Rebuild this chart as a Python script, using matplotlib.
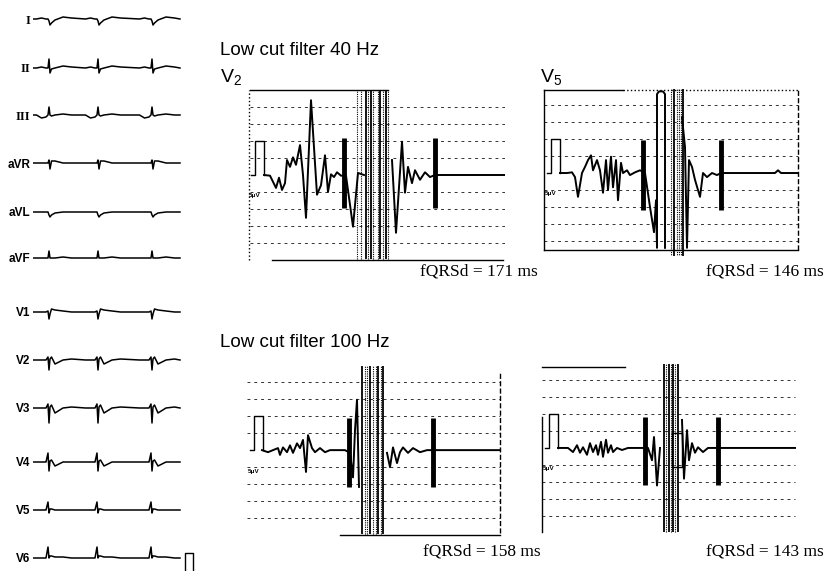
import matplotlib
matplotlib.use('Agg')
import matplotlib.pyplot as plt

plt.rcParams['font.family'] = ['Liberation Sans', 'DejaVu Sans']
plt.rcParams['mathtext.default'] = 'regular'

W, H = 825, 571
nan = float('nan')

# ---- 12-lead strip (left column), seconds / mV ----
lead_names = ['I', 'II', 'III', 'aVR', 'aVL', 'aVF', 'V1', 'V2', 'V3', 'V4', 'V5', 'V6']
beat_times = [0.32, 1.30, 2.38]
strip_end = 2.94
knot_t = [-0.25, -0.15, -0.06, -0.02, 0.0, 0.02, 0.05, 0.12, 0.28, 0.45]
beat_I = [0.0, 0.1, 0.0, 0.0, -0.2, -0.6, -0.4, -0.1, 0.2, 0.1]
beat_II = [0.0, 0.1, 0.0, 0.0, 0.9, -0.5, -0.1, 0.0, 0.2, 0.1]
beat_III = [0.0, -0.3, -0.2, 0.0, 0.8, 0.0, -0.1, 0.0, 0.1, 0.0]
beat_aVR = [0.0, 0.0, 0.0, 0.0, 0.3, -0.6, 0.2, 0.2, 0.0, 0.0]
beat_aVL = [0.0, 0.0, 0.0, 0.0, -0.3, -0.5, -0.3, -0.1, 0.0, 0.0]
beat_aVF = [0.0, 0.0, 0.0, 0.0, 0.7, 0.0, 0.0, 0.0, 0.1, 0.0]
beat_V1 = [0.0, 0.0, 0.0, 0.1, -0.7, -0.2, 0.3, 0.2, 0.1, 0.0]
beat_V2 = [0.0, 0.0, 0.0, 0.3, -1.0, 0.1, 0.3, -0.4, 0.0, 0.1]
beat_V3 = [0.0, 0.0, 0.0, 0.4, -1.5, 0.1, 0.3, -0.5, 0.0, 0.1]
beat_V4 = [0.0, 0.0, 0.0, 0.9, -0.9, 0.1, 0.2, -0.4, 0.0, 0.0]
beat_V5 = [0.0, 0.0, 0.0, 0.8, -0.3, 0.1, 0.1, 0.0, 0.0, 0.0]
beat_V6 = [0.0, 0.0, 0.0, 1.1, 0.0, 0.2, 0.2, 0.1, 0.1, 0.0]
lead_beats = [beat_I, beat_II, beat_III, beat_aVR, beat_aVL, beat_aVF,
              beat_V1, beat_V2, beat_V3, beat_V4, beat_V5, beat_V6]
std_cal_t = [3.04, 3.04, 3.20, 3.20]
std_cal_mv = [-1.2, 0.5, 0.5, -1.2]

# ---- signal-averaged ECG, ms / uV ----
cal_t = [3, 7, 7, 16, 16]
cal_uv = [0, 0, 5, 5, 0]

v2_40_t = [16, 22, 28, 31, 34, 37, 39, 42, 45, 48, 52, 55, 58, 63, 69, 73, 77, 80, 83, 86,
           89, 93, 98, 105, 110, 116, nan, 144, 148, 154, 157, 160, 164, 167, 172, 177, 182, 187, 257]
v2_40_uv = [0, -0.1, -1.9, -0.4, -2.2, -1.2, 2.2, 1.2, 2.6, 1.5, 4.4, 0, -6.3, 11.0, -2.9, -1.5, 2.9, -2.5, 0.1, -0.3,
            0.4, -0.1, -0.1, -7.6, 0.3, 0, nan, 2.2, -8.5, 4.9, -2.6, 1.2, -1.2, 0.7, -0.7, 0.4, -0.3, 0, 0]
v2_40_bars = [96, 187]

v5_40_t = [16, 23, 28, 31, 34, 38, 41, 44, 47, 49, 53, 56, 59, 62, 64, 67, 69, 72, 74, 77,
           79, 83, 86, 91, 96, 101, 106, 110, 112, 113, 113, 115, 119, 121, 121, nan,
           138, 141, 143, 145, 148, 151, 156, 159, 163, 168, 173, 177, 231, 234, 237, 254]
v5_40_uv = [0, 0, 0.1, -0.6, -3.5, 0, 0.9, 1.9, 2.6, 0.4, 1.9, 0.4, -2.9, 1.9, -2.5, 2.4, -2.1, 1.9, -4.0, 1.5,
            0, 0.4, -0.3, 0.1, 0.4, 0, -5.0, -8.7, -4.0, -11.0, 11.6, 12.0, 12.0, 11.6, -11.0, nan,
            8.2, 3.8, -11.0, 1.9, 0.9, -1.0, -3.5, 0, -0.6, 0, -0.3, 0, 0, 0.4, 0, 0]
v5_40_bars = [99, 177]

v2_100_t = [15, 21, 26, 31, 33, 36, 40, 43, 46, 50, 53, 56, 59, 61, 65, 68, 73, 78, 83, 98,
            103, 106, 108, 110, 112, nan, 140, 143, 146, 150, 153, 156, 161, 166, 173, 180, 253]
v2_100_uv = [0, -0.3, 0, 0.3, -0.7, 0.4, -0.3, 0.7, -0.4, 1.0, 0.3, 1.5, -3.2, 2.2, 0.3, -0.3, 0.3, -0.3, 0, 0,
             -0.4, -4.0, 2.9, 7.4, -5.4, nan, -0.4, -2.5, 0.4, -1.9, -0.3, 0.4, -0.4, 0.3, -0.3, 0, 0]
v2_100_bars = [102, 186]

v5_100_t = [16, 21, 26, 31, 35, 38, 41, 45, 48, 51, 54, 56, 59, 61, 64, 66, 69, 71, 75, 80,
            86, 96, 106, 110, 112, 115, 118, nan, 140, 142, 145, 147, 150, 153, 156, 161, 166, 173, 253]
v5_100_uv = [0, 0, 0, -0.6, 0.4, -0.7, 0.1, -1.0, 0.7, -0.6, 0.4, -1.0, 0.9, -1.3, 1.2, -0.7, 0.4, -0.6, 0, -0.3,
             0, 0, 0, -1.8, 1.6, -5.5, 0, nan, 4.1, -4.5, 2.6, -1.8, 0.7, -0.7, 0.1, -0.6, 0, 0, 0]
v5_100_bars = [103, 176]

grid_levels = [-10, -7.5, -5, -2.5, 2.5, 5, 7.5, 10]


def px_box(x0, y0, x1, y1):
    return [x0 / W, 1 - y1 / H, (x1 - x0) / W, (y1 - y0) / H]


fig = plt.figure(figsize=(W / 100, H / 100), dpi=100)

# left column: 12 leads
row_px = [19, 68, 115, 163, 212, 258, 312, 360, 408, 462, 510, 558]
row_offsets = [-y / 10 for y in row_px]
ax = fig.add_axes(px_box(33, 0, 200, 571))
for beat, off in zip(lead_beats, row_offsets):
    xs = [0.0]
    ys = [off]
    for b in beat_times:
        for k, v in zip(knot_t, beat):
            xs.append(b + k)
            ys.append(off + v)
    xs.append(strip_end)
    ys.append(off)
    ax.plot(xs, ys, color='k', lw=1.1)
ax.plot(std_cal_t, [row_offsets[-1] + v for v in std_cal_mv], color='k', lw=1.0)
ax.set_xlim(0, 167 / 50)
ax.set_ylim(-57.1, 0)
ax.set_xticks([])
ax.set_yticks(row_offsets, lead_names)
ax.tick_params(axis='y', length=0, pad=2)
for lab in ax.get_yticklabels():
    lab.set_fontweight('bold')
    lab.set_fontsize(8.5)
    lab.set_fontstretch('condensed')
    if lab.get_text() in ('I', 'II', 'III'):
        lab.set_family('Liberation Serif')
        lab.set_fontsize(9)
for s in ax.spines.values():
    s.set_visible(False)

# signal-averaged panels
panels = [
    dict(box=(248, 88, 505, 262), ylim=(-12.8, 12.8), t=v2_40_t, uv=v2_40_uv, bars=v2_40_bars,
         bar_span=(-4.9, 5.4), grid=(2, 257),
         solid=[118, 123, 132, 138], dotted=[109, 113, 120, 125, 130, 135, 140],
         frame=[((2, 140), (12.5, 12.5), '-'), ((24, 255), (-12.5, -12.5), '-'),
                ((1, 1), (-12.5, 12.5), ':')]),
    dict(box=(544, 88, 800, 256), ylim=(-12.2, 12.5), t=v5_40_t, uv=v5_40_uv, bars=v5_40_bars,
         bar_span=(-5.4, 4.9), grid=(0, 254),
         solid=[130, 139], dotted=[127, 133, 135, 137],
         frame=[((0, 79), (12.2, 12.2), '-'), ((79, 254), (12.2, 12.2), ':'),
                ((0, 0), (-11.3, 12.2), '-'), ((0, 254), (-11.3, -11.3), '-'),
                ((254, 254), (-11.3, 12.2), '--')]),
    dict(box=(247, 365, 502, 538), ylim=(-12.9, 12.5), t=v2_100_t, uv=v2_100_uv, bars=v2_100_bars,
         bar_span=(-5.4, 4.7), grid=(0, 253),
         solid=[115, 123, 131, 136], dotted=[118, 120, 126, 129, 134],
         frame=[((93, 253), (-12.5, -12.5), '-'), ((253, 253), (-12.2, 11.3), '--')]),
    dict(box=(542, 364, 800, 536), ylim=(-12.9, 12.3), t=v5_100_t, uv=v5_100_uv, bars=v5_100_bars,
         bar_span=(-5.5, 4.5), grid=(0, 253),
         solid=[122, 127, 131, 136], dotted=[124, 129, 133],
         frame=[((0, 83), (11.9, 11.9), '-'), ((0, 0), (-12.3, 4.6), '-'),
                ((130, 140, 140, 130, 130), (2.2, 2.2, -2.8, -2.8, 2.2), '-')]),
]

for p in panels:
    x0, y0, x1, y1 = p['box']
    a = fig.add_axes(px_box(*p['box']))
    a.set_xlim(0, x1 - x0)
    a.set_ylim(*p['ylim'])
    a.axis('off')
    a.hlines(grid_levels, p['grid'][0], p['grid'][1], colors='0.2', lw=0.7,
             linestyles=[(0, (3, 4))])
    a.vlines(p['dotted'], -12.3, 12.3, colors='k', lw=0.8, linestyles=[(0, (1, 1))])
    a.vlines(p['solid'], -12.3, 12.3, colors='k', lw=1.3)
    for fx, fy, ls in p['frame']:
        a.plot(fx, fy, color='k', lw=1.0, ls=ls, clip_on=False)
    a.plot(cal_t, cal_uv, color='k', lw=1.0)
    a.text(1, -3.3, '5μV', fontsize=4.5, fontweight='bold')
    a.plot(p['t'], p['uv'], color='k', lw=1.4)
    a.vlines(p['bars'], p['bar_span'][0], p['bar_span'][1], colors='k', lw=3.5)

fig.text(220 / W, 1 - 55 / H, 'Low cut filter 40 Hz', fontsize=13.5, va='baseline')
fig.text(220 / W, 1 - 82 / H, r'V$_2$', fontsize=14, va='baseline')
fig.text(540 / W, 1 - 82 / H, r'V$_5$', fontsize=14, va='baseline')
fig.text(220 / W, 1 - 347 / H, 'Low cut filter 100 Hz', fontsize=13.5, va='baseline')

serif = dict(family='Liberation Serif', fontsize=12.5, ha='right', va='center')
fig.text(538 / W, 1 - 271 / H, 'fQRSd = 171 ms', **serif)
fig.text(824 / W, 1 - 271 / H, 'fQRSd = 146 ms', **serif)
fig.text(541 / W, 1 - 552 / H, 'fQRSd = 158 ms', **serif)
fig.text(824 / W, 1 - 551 / H, 'fQRSd = 143 ms', **serif)

fig.savefig('out.png', dpi=100, facecolor='white')
